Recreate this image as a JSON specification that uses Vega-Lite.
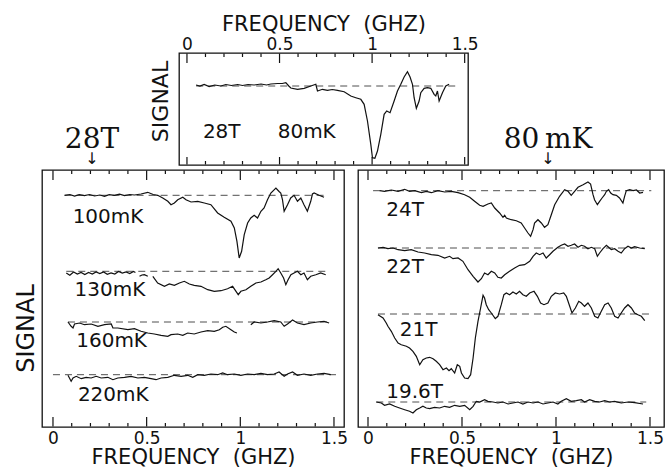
{
  "$schema": "https://vega.github.io/schema/vega-lite/v6.json",
  "background": "white",
  "padding": {"left": 13, "top": 12, "right": 0, "bottom": 0},
  "datasets": {
    "top_base": [{"f0": 0.05, "f1": 1.45, "s": 79}],
    "top_labels": [{"t": "28T", "f": 0.086, "s": 27}, {"t": "80mK", "f": 0.49, "s": 27}],
    "top_trace": [
      {"g":"tr","f":0.049,"s":80},{"g":"tr","f":0.07,"s":79},{"g":"tr","f":0.093,"s":80.5},{"g":"tr","f":0.12,"s":78.5},{"g":"tr","f":0.15,"s":80},{"g":"tr","f":0.183,"s":79},{"g":"tr","f":0.21,"s":80.5},{"g":"tr","f":0.24,"s":79.5},{"g":"tr","f":0.274,"s":80.5},{"g":"tr","f":0.30,"s":79.5},{"g":"tr","f":0.33,"s":80.5},{"g":"tr","f":0.363,"s":80},{"g":"tr","f":0.40,"s":81},{"g":"tr","f":0.43,"s":80},{"g":"tr","f":0.453,"s":81},{"g":"tr","f":0.49,"s":81.5},{"g":"tr","f":0.515,"s":81.5},{"g":"tr","f":0.534,"s":82.3},{"g":"tr","f":0.55,"s":79},{"g":"tr","f":0.561,"s":77},{"g":"tr","f":0.597,"s":75.7},{"g":"tr","f":0.633,"s":76.7},{"g":"tr","f":0.669,"s":79},{"g":"tr","f":0.696,"s":80.7},{"g":"tr","f":0.705,"s":74},{"g":"tr","f":0.732,"s":75.7},{"g":"tr","f":0.759,"s":74.7},{"g":"tr","f":0.785,"s":75.5},{"g":"tr","f":0.813,"s":74.7},{"g":"tr","f":0.849,"s":73.3},{"g":"tr","f":0.885,"s":69},{"g":"tr","f":0.912,"s":67.3},{"g":"tr","f":0.939,"s":65.7},{"g":"tr","f":0.957,"s":60.7},{"g":"tr","f":0.975,"s":44},{"g":"tr","f":0.993,"s":20.7},{"g":"tr","f":1.002,"s":7.3},{"g":"tr","f":1.015,"s":6.7},{"g":"tr","f":1.029,"s":14},{"g":"tr","f":1.047,"s":30.7},{"g":"tr","f":1.065,"s":50.7},{"g":"tr","f":1.079,"s":54},{"g":"tr","f":1.097,"s":52.3},{"g":"tr","f":1.119,"s":64},{"g":"tr","f":1.137,"s":74},{"g":"tr","f":1.155,"s":80.7},{"g":"tr","f":1.173,"s":88},{"g":"tr","f":1.191,"s":93.3},{"g":"tr","f":1.205,"s":88},{"g":"tr","f":1.218,"s":80.7},{"g":"tr","f":1.227,"s":67.3},{"g":"tr","f":1.239,"s":56.7},{"g":"tr","f":1.254,"s":64},{"g":"tr","f":1.263,"s":72.3},{"g":"tr","f":1.281,"s":76.7},{"g":"tr","f":1.299,"s":77.3},{"g":"tr","f":1.317,"s":76.7},{"g":"tr","f":1.335,"s":70.7},{"g":"tr","f":1.344,"s":69},{"g":"tr","f":1.353,"s":74},{"g":"tr","f":1.362,"s":64},{"g":"tr","f":1.380,"s":72.3},{"g":"tr","f":1.398,"s":79},{"g":"tr","f":1.416,"s":80.7},
      {"g":"TM0","f":0,"s":111.5},{"g":"TM0","f":0,"s":102},{"g":"TM1","f":0.5,"s":111.5},{"g":"TM1","f":0.5,"s":102},{"g":"TM2","f":1,"s":111.5},{"g":"TM2","f":1,"s":102},{"g":"TM3","f":1.5,"s":111.5},{"g":"TM3","f":1.5,"s":102},
      {"g":"Tm1","f":0.1,"s":111.5},{"g":"Tm1","f":0.1,"s":108},{"g":"Tm2","f":0.2,"s":111.5},{"g":"Tm2","f":0.2,"s":108},{"g":"Tm3","f":0.3,"s":111.5},{"g":"Tm3","f":0.3,"s":108},{"g":"Tm4","f":0.4,"s":111.5},{"g":"Tm4","f":0.4,"s":108},{"g":"Tm6","f":0.6,"s":111.5},{"g":"Tm6","f":0.6,"s":108},{"g":"Tm7","f":0.7,"s":111.5},{"g":"Tm7","f":0.7,"s":108},{"g":"Tm8","f":0.8,"s":111.5},{"g":"Tm8","f":0.8,"s":108},{"g":"Tm9","f":0.9,"s":111.5},{"g":"Tm9","f":0.9,"s":108},{"g":"Tm11","f":1.1,"s":111.5},{"g":"Tm11","f":1.1,"s":108},{"g":"Tm12","f":1.2,"s":111.5},{"g":"Tm12","f":1.2,"s":108},{"g":"Tm13","f":1.3,"s":111.5},{"g":"Tm13","f":1.3,"s":108},{"g":"Tm14","f":1.4,"s":111.5},{"g":"Tm14","f":1.4,"s":108},
      {"g":"BM0","f":0,"s":0.5},{"g":"BM0","f":0,"s":8},{"g":"BM1","f":0.5,"s":0.5},{"g":"BM1","f":0.5,"s":8},{"g":"BM2","f":1,"s":0.5},{"g":"BM2","f":1,"s":8},{"g":"BM3","f":1.5,"s":0.5},{"g":"BM3","f":1.5,"s":8},
      {"g":"Bm1","f":0.1,"s":0.5},{"g":"Bm1","f":0.1,"s":4},{"g":"Bm2","f":0.2,"s":0.5},{"g":"Bm2","f":0.2,"s":4},{"g":"Bm3","f":0.3,"s":0.5},{"g":"Bm3","f":0.3,"s":4},{"g":"Bm4","f":0.4,"s":0.5},{"g":"Bm4","f":0.4,"s":4},{"g":"Bm6","f":0.6,"s":0.5},{"g":"Bm6","f":0.6,"s":4},{"g":"Bm7","f":0.7,"s":0.5},{"g":"Bm7","f":0.7,"s":4},{"g":"Bm8","f":0.8,"s":0.5},{"g":"Bm8","f":0.8,"s":4},{"g":"Bm9","f":0.9,"s":0.5},{"g":"Bm9","f":0.9,"s":4},{"g":"Bm11","f":1.1,"s":0.5},{"g":"Bm11","f":1.1,"s":4},{"g":"Bm12","f":1.2,"s":0.5},{"g":"Bm12","f":1.2,"s":4},{"g":"Bm13","f":1.3,"s":0.5},{"g":"Bm13","f":1.3,"s":4},{"g":"Bm14","f":1.4,"s":0.5},{"g":"Bm14","f":1.4,"s":4}
    ],
    "left_base": [
      {"f0": 0.062, "f1": 1.447, "s": 231.7},
      {"f0": 0.071, "f1": 1.456, "s": 155.7},
      {"f0": 0.08, "f1": 1.483, "s": 105},
      {"f0": 0.0, "f1": 1.52, "s": 52.3}
    ],
    "left_labels": [
      {"t": "100mK", "f": 0.105, "s": 204},
      {"t": "130mK", "f": 0.115, "s": 130.7},
      {"t": "160mK", "f": 0.124, "s": 79.7},
      {"t": "220mK", "f": 0.133, "s": 25.7}
    ],
    "left_trace": [
      {"g":"100","f":0.062,"s":231.7},{"g":"100","f":0.09,"s":232.5},{"g":"100","f":0.115,"s":231},{"g":"100","f":0.14,"s":232.3},{"g":"100","f":0.168,"s":231.3},{"g":"100","f":0.195,"s":232.5},{"g":"100","f":0.222,"s":231},{"g":"100","f":0.25,"s":232},{"g":"100","f":0.275,"s":230.7},{"g":"100","f":0.30,"s":232.3},{"g":"100","f":0.328,"s":231.7},{"g":"100","f":0.355,"s":232.8},{"g":"100","f":0.382,"s":231.3},{"g":"100","f":0.41,"s":232.5},{"g":"100","f":0.435,"s":232},{"g":"100","f":0.47,"s":233},{"g":"100","f":0.506,"s":234.7},{"g":"100","f":0.535,"s":232.5},{"g":"100","f":0.559,"s":231.7},{"g":"100","f":0.586,"s":229},{"g":"100","f":0.613,"s":225.7},{"g":"100","f":0.630,"s":222.3},{"g":"100","f":0.648,"s":224},{"g":"100","f":0.666,"s":227.3},{"g":"100","f":0.693,"s":229.7},{"g":"100","f":0.710,"s":227.3},{"g":"100","f":0.737,"s":225},{"g":"100","f":0.773,"s":225.7},{"g":"100","f":0.808,"s":224},{"g":"100","f":0.843,"s":222.3},{"g":"100","f":0.879,"s":214},{"g":"100","f":0.914,"s":209.7},{"g":"100","f":0.950,"s":205.7},{"g":"100","f":0.968,"s":199},{"g":"100","f":0.982,"s":185.7},{"g":"100","f":0.994,"s":169},{"g":"100","f":1.007,"s":175.7},{"g":"100","f":1.021,"s":192.3},{"g":"100","f":1.039,"s":204},{"g":"100","f":1.056,"s":209},{"g":"100","f":1.074,"s":211.7},{"g":"100","f":1.092,"s":209},{"g":"100","f":1.110,"s":215.7},{"g":"100","f":1.127,"s":219},{"g":"100","f":1.145,"s":227.3},{"g":"100","f":1.163,"s":234},{"g":"100","f":1.190,"s":239},{"g":"100","f":1.207,"s":235.5},{"g":"100","f":1.216,"s":234},{"g":"100","f":1.225,"s":227.3},{"g":"100","f":1.234,"s":215.7},{"g":"100","f":1.252,"s":222.3},{"g":"100","f":1.269,"s":229},{"g":"100","f":1.287,"s":231.7},{"g":"100","f":1.305,"s":225.7},{"g":"100","f":1.323,"s":229},{"g":"100","f":1.340,"s":222.3},{"g":"100","f":1.358,"s":215.7},{"g":"100","f":1.376,"s":225.7},{"g":"100","f":1.385,"s":233},{"g":"100","f":1.394,"s":234},{"g":"100","f":1.420,"s":231.7},{"g":"100","f":1.447,"s":229.7},
      {"g":"130a","f":0.071,"s":154},{"g":"130a","f":0.09,"s":151.7},{"g":"130a","f":0.11,"s":155},{"g":"130a","f":0.13,"s":153},{"g":"130a","f":0.15,"s":154.5},{"g":"130a","f":0.17,"s":152.5},{"g":"130a","f":0.19,"s":154.5},{"g":"130a","f":0.21,"s":153},{"g":"130a","f":0.23,"s":155},{"g":"130a","f":0.25,"s":153.5},{"g":"130a","f":0.27,"s":155},{"g":"130a","f":0.29,"s":152.7},{"g":"130a","f":0.31,"s":154},{"g":"130a","f":0.33,"s":153},{"g":"130a","f":0.35,"s":155.5},{"g":"130a","f":0.37,"s":154},{"g":"130a","f":0.39,"s":155},{"g":"130a","f":0.41,"s":153.5},{"g":"130a","f":0.43,"s":155.5},{"g":"130a","f":0.44,"s":154.5},
      {"g":"130b","f":0.462,"s":150.7},{"g":"130b","f":0.475,"s":152},{"g":"130b","f":0.488,"s":152.3},{"g":"130b","f":0.506,"s":150.7},
      {"g":"130c","f":0.533,"s":150.7},{"g":"130c","f":0.559,"s":144},{"g":"130c","f":0.595,"s":140.7},{"g":"130c","f":0.621,"s":143},{"g":"130c","f":0.648,"s":141.7},{"g":"130c","f":0.675,"s":144},{"g":"130c","f":0.701,"s":145.7},{"g":"130c","f":0.728,"s":143},{"g":"130c","f":0.754,"s":141.7},{"g":"130c","f":0.790,"s":140.7},{"g":"130c","f":0.826,"s":137.3},{"g":"130c","f":0.861,"s":135.7},{"g":"130c","f":0.897,"s":136.3},{"g":"130c","f":0.932,"s":138.3},{"g":"130c","f":0.959,"s":140.7},{"g":"130c","f":0.977,"s":135.7},{"g":"130c","f":0.989,"s":132.3},{"g":"130c","f":1.003,"s":135.7},{"g":"130c","f":1.030,"s":137.3},{"g":"130c","f":1.056,"s":140.7},{"g":"130c","f":1.083,"s":144},{"g":"130c","f":1.110,"s":145},{"g":"130c","f":1.136,"s":147.3},{"g":"130c","f":1.154,"s":149},{"g":"130c","f":1.172,"s":152.3},{"g":"130c","f":1.190,"s":155.7},{"g":"130c","f":1.202,"s":158.3},{"g":"130c","f":1.216,"s":154},{"g":"130c","f":1.231,"s":149},{"g":"130c","f":1.243,"s":142.3},{"g":"130c","f":1.255,"s":147.3},{"g":"130c","f":1.270,"s":152.3},{"g":"130c","f":1.287,"s":154},{"g":"130c","f":1.305,"s":155.7},{"g":"130c","f":1.323,"s":152.3},{"g":"130c","f":1.340,"s":154},{"g":"130c","f":1.358,"s":147.3},{"g":"130c","f":1.376,"s":150.7},{"g":"130c","f":1.403,"s":152.3},{"g":"130c","f":1.429,"s":154},{"g":"130c","f":1.456,"s":152.3},
      {"g":"160a","f":0.080,"s":105},{"g":"160a","f":0.097,"s":100.7},{"g":"160a","f":0.107,"s":99},{"g":"160a","f":0.115,"s":103},{"g":"160a","f":0.142,"s":104},{"g":"160a","f":0.168,"s":102.3},{"g":"160a","f":0.204,"s":103},{"g":"160a","f":0.240,"s":100.7},{"g":"160a","f":0.275,"s":102.3},{"g":"160a","f":0.311,"s":103},{"g":"160a","f":0.320,"s":99},{"g":"160a","f":0.346,"s":99},{"g":"160a","f":0.40,"s":97.3},{"g":"160a","f":0.435,"s":98.3},{"g":"160a","f":0.470,"s":95.7},{"g":"160a","f":0.506,"s":94},{"g":"160a","f":0.541,"s":93},{"g":"160a","f":0.577,"s":91.7},{"g":"160a","f":0.613,"s":90.7},{"g":"160a","f":0.630,"s":92.3},{"g":"160a","f":0.666,"s":93},{"g":"160a","f":0.693,"s":91.7},{"g":"160a","f":0.719,"s":94},{"g":"160a","f":0.754,"s":93},{"g":"160a","f":0.790,"s":95},{"g":"160a","f":0.826,"s":96.3},{"g":"160a","f":0.861,"s":95.7},{"g":"160a","f":0.888,"s":97.3},{"g":"160a","f":0.906,"s":99.7},{"g":"160a","f":0.923,"s":100.7},{"g":"160a","f":0.950,"s":97.3},{"g":"160a","f":0.968,"s":95},{"g":"160a","f":0.982,"s":94},
      {"g":"160b","f":1.056,"s":102.3},{"g":"160b","f":1.074,"s":105},{"g":"160b","f":1.110,"s":104},{"g":"160b","f":1.145,"s":105},{"g":"160b","f":1.181,"s":106.3},{"g":"160b","f":1.216,"s":105},{"g":"160b","f":1.234,"s":100.7},{"g":"160b","f":1.252,"s":103},{"g":"160b","f":1.279,"s":107},{"g":"160b","f":1.305,"s":104},{"g":"160b","f":1.340,"s":102.3},{"g":"160b","f":1.376,"s":104},{"g":"160b","f":1.412,"s":105},{"g":"160b","f":1.447,"s":105.7},{"g":"160b","f":1.474,"s":104},
      {"g":"220","f":0.080,"s":51.7},{"g":"220","f":0.097,"s":45.7},{"g":"220","f":0.107,"s":49},{"g":"220","f":0.124,"s":50.7},{"g":"220","f":0.151,"s":48.3},{"g":"220","f":0.177,"s":49.7},{"g":"220","f":0.204,"s":49},{"g":"220","f":0.231,"s":50.7},{"g":"220","f":0.257,"s":49},{"g":"220","f":0.293,"s":49.7},{"g":"220","f":0.320,"s":47.3},{"g":"220","f":0.346,"s":49},{"g":"220","f":0.382,"s":49.7},{"g":"220","f":0.417,"s":50.7},{"g":"220","f":0.453,"s":49},{"g":"220","f":0.488,"s":49.7},{"g":"220","f":0.524,"s":48.3},{"g":"220","f":0.550,"s":47.3},{"g":"220","f":0.577,"s":49},{"g":"220","f":0.613,"s":49.7},{"g":"220","f":0.648,"s":51.7},{"g":"220","f":0.684,"s":50.7},{"g":"220","f":0.719,"s":51.7},{"g":"220","f":0.746,"s":49.7},{"g":"220","f":0.773,"s":52.3},{"g":"220","f":0.808,"s":51.7},{"g":"220","f":0.843,"s":53},{"g":"220","f":0.879,"s":52.3},{"g":"220","f":0.906,"s":54},{"g":"220","f":0.932,"s":52.3},{"g":"220","f":0.968,"s":53},{"g":"220","f":1.003,"s":51.7},{"g":"220","f":1.039,"s":53},{"g":"220","f":1.074,"s":52.3},{"g":"220","f":1.110,"s":53.7},{"g":"220","f":1.145,"s":52.3},{"g":"220","f":1.181,"s":53},{"g":"220","f":1.207,"s":55},{"g":"220","f":1.234,"s":50.7},{"g":"220","f":1.252,"s":53},{"g":"220","f":1.279,"s":55},{"g":"220","f":1.305,"s":51.7},{"g":"220","f":1.340,"s":53},{"g":"220","f":1.376,"s":51.7},{"g":"220","f":1.412,"s":53},{"g":"220","f":1.447,"s":53.7},{"g":"220","f":1.483,"s":52.3},
      {"g":"TM0","f":0,"s":256.5},{"g":"TM0","f":0,"s":247},{"g":"TM1","f":0.5,"s":256.5},{"g":"TM1","f":0.5,"s":247},{"g":"TM2","f":1,"s":256.5},{"g":"TM2","f":1,"s":247},{"g":"TM3","f":1.5,"s":256.5},{"g":"TM3","f":1.5,"s":247},
      {"g":"Tm1","f":0.1,"s":256.5},{"g":"Tm1","f":0.1,"s":253},{"g":"Tm2","f":0.2,"s":256.5},{"g":"Tm2","f":0.2,"s":253},{"g":"Tm3","f":0.3,"s":256.5},{"g":"Tm3","f":0.3,"s":253},{"g":"Tm4","f":0.4,"s":256.5},{"g":"Tm4","f":0.4,"s":253},{"g":"Tm6","f":0.6,"s":256.5},{"g":"Tm6","f":0.6,"s":253},{"g":"Tm7","f":0.7,"s":256.5},{"g":"Tm7","f":0.7,"s":253},{"g":"Tm8","f":0.8,"s":256.5},{"g":"Tm8","f":0.8,"s":253},{"g":"Tm9","f":0.9,"s":256.5},{"g":"Tm9","f":0.9,"s":253},{"g":"Tm11","f":1.1,"s":256.5},{"g":"Tm11","f":1.1,"s":253},{"g":"Tm12","f":1.2,"s":256.5},{"g":"Tm12","f":1.2,"s":253},{"g":"Tm13","f":1.3,"s":256.5},{"g":"Tm13","f":1.3,"s":253},{"g":"Tm14","f":1.4,"s":256.5},{"g":"Tm14","f":1.4,"s":253},
      {"g":"BM0","f":0,"s":0.5},{"g":"BM0","f":0,"s":10},{"g":"BM1","f":0.5,"s":0.5},{"g":"BM1","f":0.5,"s":10},{"g":"BM2","f":1,"s":0.5},{"g":"BM2","f":1,"s":10},{"g":"BM3","f":1.5,"s":0.5},{"g":"BM3","f":1.5,"s":10},
      {"g":"Bm1","f":0.1,"s":0.5},{"g":"Bm1","f":0.1,"s":4},{"g":"Bm2","f":0.2,"s":0.5},{"g":"Bm2","f":0.2,"s":4},{"g":"Bm3","f":0.3,"s":0.5},{"g":"Bm3","f":0.3,"s":4},{"g":"Bm4","f":0.4,"s":0.5},{"g":"Bm4","f":0.4,"s":4},{"g":"Bm6","f":0.6,"s":0.5},{"g":"Bm6","f":0.6,"s":4},{"g":"Bm7","f":0.7,"s":0.5},{"g":"Bm7","f":0.7,"s":4},{"g":"Bm8","f":0.8,"s":0.5},{"g":"Bm8","f":0.8,"s":4},{"g":"Bm9","f":0.9,"s":0.5},{"g":"Bm9","f":0.9,"s":4},{"g":"Bm11","f":1.1,"s":0.5},{"g":"Bm11","f":1.1,"s":4},{"g":"Bm12","f":1.2,"s":0.5},{"g":"Bm12","f":1.2,"s":4},{"g":"Bm13","f":1.3,"s":0.5},{"g":"Bm13","f":1.3,"s":4},{"g":"Bm14","f":1.4,"s":0.5},{"g":"Bm14","f":1.4,"s":4}
    ],
    "right_base": [
      {"f0": 0.027, "f1": 1.507, "s": 236.3},
      {"f0": 0.053, "f1": 1.472, "s": 179},
      {"f0": 0.053, "f1": 1.507, "s": 113},
      {"f0": 0.044, "f1": 1.48, "s": 25}
    ],
    "right_labels": [
      {"t": "24T", "f": 0.097, "s": 210.7},
      {"t": "22T", "f": 0.097, "s": 154},
      {"t": "21T", "f": 0.169, "s": 90.7},
      {"t": "19.6T", "f": 0.097, "s": 29}
    ],
    "right_trace": [
      {"g":"24","f":0.062,"s":236.3},{"g":"24","f":0.088,"s":235.7},{"g":"24","f":0.124,"s":237},{"g":"24","f":0.160,"s":235.7},{"g":"24","f":0.195,"s":237.7},{"g":"24","f":0.221,"s":235.7},{"g":"24","f":0.248,"s":236.3},{"g":"24","f":0.284,"s":234.3},{"g":"24","f":0.310,"s":235.7},{"g":"24","f":0.337,"s":234.3},{"g":"24","f":0.372,"s":236.3},{"g":"24","f":0.408,"s":235},{"g":"24","f":0.443,"s":235.7},{"g":"24","f":0.479,"s":234.3},{"g":"24","f":0.514,"s":232.3},{"g":"24","f":0.541,"s":229.7},{"g":"24","f":0.567,"s":225.7},{"g":"24","f":0.594,"s":221.7},{"g":"24","f":0.612,"s":220.7},{"g":"24","f":0.638,"s":223},{"g":"24","f":0.656,"s":224},{"g":"24","f":0.674,"s":219},{"g":"24","f":0.700,"s":214},{"g":"24","f":0.718,"s":209.7},{"g":"24","f":0.727,"s":211.7},{"g":"24","f":0.736,"s":209},{"g":"24","f":0.762,"s":207.3},{"g":"24","f":0.789,"s":206.3},{"g":"24","f":0.815,"s":204},{"g":"24","f":0.833,"s":199},{"g":"24","f":0.851,"s":194},{"g":"24","f":0.865,"s":190.7},{"g":"24","f":0.878,"s":197.3},{"g":"24","f":0.886,"s":204},{"g":"24","f":0.904,"s":207.3},{"g":"24","f":0.922,"s":204},{"g":"24","f":0.939,"s":199.7},{"g":"24","f":0.957,"s":202.3},{"g":"24","f":0.975,"s":212.3},{"g":"24","f":0.993,"s":222.3},{"g":"24","f":1.019,"s":230.7},{"g":"24","f":1.046,"s":237.3},{"g":"24","f":1.064,"s":235.7},{"g":"24","f":1.081,"s":231.7},{"g":"24","f":1.099,"s":235.7},{"g":"24","f":1.117,"s":239.7},{"g":"24","f":1.144,"s":242.3},{"g":"24","f":1.170,"s":245},{"g":"24","f":1.184,"s":243},{"g":"24","f":1.197,"s":232.3},{"g":"24","f":1.205,"s":227.3},{"g":"24","f":1.220,"s":222.3},{"g":"24","f":1.232,"s":225.7},{"g":"24","f":1.245,"s":229},{"g":"24","f":1.259,"s":232.3},{"g":"24","f":1.268,"s":235.7},{"g":"24","f":1.280,"s":237.3},{"g":"24","f":1.291,"s":234},{"g":"24","f":1.303,"s":232.3},{"g":"24","f":1.321,"s":231.7},{"g":"24","f":1.338,"s":229},{"g":"24","f":1.356,"s":224},{"g":"24","f":1.365,"s":230.7},{"g":"24","f":1.374,"s":236.3},{"g":"24","f":1.392,"s":237.3},{"g":"24","f":1.410,"s":236.3},{"g":"24","f":1.428,"s":237},{"g":"24","f":1.445,"s":234},{"g":"24","f":1.463,"s":234.7},
      {"g":"22","f":0.053,"s":179},{"g":"22","f":0.080,"s":179.7},{"g":"22","f":0.106,"s":178.3},{"g":"22","f":0.133,"s":179},{"g":"22","f":0.160,"s":177.3},{"g":"22","f":0.195,"s":176.3},{"g":"22","f":0.230,"s":177.3},{"g":"22","f":0.266,"s":175},{"g":"22","f":0.301,"s":174},{"g":"22","f":0.337,"s":172.3},{"g":"22","f":0.372,"s":171.7},{"g":"22","f":0.408,"s":169},{"g":"22","f":0.434,"s":170.7},{"g":"22","f":0.452,"s":168.3},{"g":"22","f":0.479,"s":169},{"g":"22","f":0.505,"s":165.7},{"g":"22","f":0.532,"s":157.3},{"g":"22","f":0.559,"s":150.7},{"g":"22","f":0.585,"s":145},{"g":"22","f":0.603,"s":148.3},{"g":"22","f":0.620,"s":154},{"g":"22","f":0.638,"s":152.3},{"g":"22","f":0.656,"s":155.7},{"g":"22","f":0.674,"s":154},{"g":"22","f":0.691,"s":149.7},{"g":"22","f":0.709,"s":149},{"g":"22","f":0.727,"s":152.3},{"g":"22","f":0.753,"s":155.7},{"g":"22","f":0.780,"s":159},{"g":"22","f":0.806,"s":161.7},{"g":"22","f":0.833,"s":162.3},{"g":"22","f":0.860,"s":165.7},{"g":"22","f":0.878,"s":170.7},{"g":"22","f":0.895,"s":174},{"g":"22","f":0.913,"s":172.3},{"g":"22","f":0.931,"s":174},{"g":"22","f":0.948,"s":169},{"g":"22","f":0.966,"s":172.3},{"g":"22","f":0.984,"s":175.7},{"g":"22","f":1.010,"s":179.7},{"g":"22","f":1.028,"s":181.7},{"g":"22","f":1.046,"s":183},{"g":"22","f":1.064,"s":180.7},{"g":"22","f":1.081,"s":181.7},{"g":"22","f":1.099,"s":183},{"g":"22","f":1.117,"s":179.7},{"g":"22","f":1.135,"s":181.7},{"g":"22","f":1.152,"s":180.7},{"g":"22","f":1.170,"s":178.3},{"g":"22","f":1.188,"s":179.7},{"g":"22","f":1.206,"s":178.3},{"g":"22","f":1.220,"s":170.7},{"g":"22","f":1.232,"s":174},{"g":"22","f":1.250,"s":178.3},{"g":"22","f":1.268,"s":181.7},{"g":"22","f":1.280,"s":179.7},{"g":"22","f":1.294,"s":177.3},{"g":"22","f":1.312,"s":178.3},{"g":"22","f":1.330,"s":175.7},{"g":"22","f":1.347,"s":174},{"g":"22","f":1.365,"s":178.3},{"g":"22","f":1.383,"s":180.7},{"g":"22","f":1.401,"s":179},{"g":"22","f":1.418,"s":180.3},{"g":"22","f":1.445,"s":179},{"g":"22","f":1.472,"s":178.3},
      {"g":"21","f":0.053,"s":112.3},{"g":"21","f":0.080,"s":109},{"g":"21","f":0.097,"s":104},{"g":"21","f":0.106,"s":100.7},{"g":"21","f":0.124,"s":95.7},{"g":"21","f":0.142,"s":89},{"g":"21","f":0.160,"s":84},{"g":"21","f":0.177,"s":82.3},{"g":"21","f":0.204,"s":80.7},{"g":"21","f":0.221,"s":79},{"g":"21","f":0.239,"s":75.7},{"g":"21","f":0.257,"s":70.7},{"g":"21","f":0.275,"s":62.3},{"g":"21","f":0.292,"s":67.3},{"g":"21","f":0.310,"s":69},{"g":"21","f":0.328,"s":69.7},{"g":"21","f":0.346,"s":68.3},{"g":"21","f":0.363,"s":65.7},{"g":"21","f":0.381,"s":62.3},{"g":"21","f":0.399,"s":57.3},{"g":"21","f":0.417,"s":59},{"g":"21","f":0.431,"s":56.3},{"g":"21","f":0.443,"s":58.3},{"g":"21","f":0.461,"s":54},{"g":"21","f":0.475,"s":62.3},{"g":"21","f":0.488,"s":60.7},{"g":"21","f":0.497,"s":54},{"g":"21","f":0.514,"s":49},{"g":"21","f":0.532,"s":48.3},{"g":"21","f":0.546,"s":52.3},{"g":"21","f":0.559,"s":69},{"g":"21","f":0.571,"s":89},{"g":"21","f":0.585,"s":105.7},{"g":"21","f":0.599,"s":119},{"g":"21","f":0.612,"s":131.7},{"g":"21","f":0.620,"s":129},{"g":"21","f":0.629,"s":122.3},{"g":"21","f":0.642,"s":117.3},{"g":"21","f":0.656,"s":114},{"g":"21","f":0.677,"s":108.3},{"g":"21","f":0.691,"s":110.7},{"g":"21","f":0.709,"s":122.3},{"g":"21","f":0.723,"s":132.3},{"g":"21","f":0.736,"s":134},{"g":"21","f":0.753,"s":132.3},{"g":"21","f":0.771,"s":135},{"g":"21","f":0.789,"s":133},{"g":"21","f":0.806,"s":135.7},{"g":"21","f":0.824,"s":132.3},{"g":"21","f":0.842,"s":130.7},{"g":"21","f":0.860,"s":134},{"g":"21","f":0.883,"s":135.7},{"g":"21","f":0.901,"s":130.7},{"g":"21","f":0.918,"s":124},{"g":"21","f":0.936,"s":122.3},{"g":"21","f":0.957,"s":124},{"g":"21","f":0.975,"s":130.7},{"g":"21","f":0.996,"s":134},{"g":"21","f":1.019,"s":133},{"g":"21","f":1.041,"s":134},{"g":"21","f":1.055,"s":130.7},{"g":"21","f":1.073,"s":120.7},{"g":"21","f":1.085,"s":114},{"g":"21","f":1.103,"s":119},{"g":"21","f":1.121,"s":125.7},{"g":"21","f":1.135,"s":124},{"g":"21","f":1.152,"s":120.7},{"g":"21","f":1.170,"s":124},{"g":"21","f":1.188,"s":119},{"g":"21","f":1.206,"s":110.7},{"g":"21","f":1.223,"s":109},{"g":"21","f":1.241,"s":115.7},{"g":"21","f":1.259,"s":122.3},{"g":"21","f":1.277,"s":124},{"g":"21","f":1.294,"s":119},{"g":"21","f":1.312,"s":110.7},{"g":"21","f":1.330,"s":109},{"g":"21","f":1.347,"s":114},{"g":"21","f":1.365,"s":119},{"g":"21","f":1.383,"s":122.3},{"g":"21","f":1.401,"s":119},{"g":"21","f":1.418,"s":114},{"g":"21","f":1.436,"s":112.3},{"g":"21","f":1.454,"s":110.7},{"g":"21","f":1.472,"s":106.3},
      {"g":"19.6","f":0.044,"s":25},{"g":"19.6","f":0.071,"s":24},{"g":"19.6","f":0.088,"s":21.7},{"g":"19.6","f":0.115,"s":23},{"g":"19.6","f":0.142,"s":20.7},{"g":"19.6","f":0.168,"s":19},{"g":"19.6","f":0.195,"s":17.3},{"g":"19.6","f":0.221,"s":15.7},{"g":"19.6","f":0.239,"s":14},{"g":"19.6","f":0.257,"s":17.3},{"g":"19.6","f":0.275,"s":19},{"g":"19.6","f":0.292,"s":20.7},{"g":"19.6","f":0.310,"s":19},{"g":"19.6","f":0.328,"s":18.3},{"g":"19.6","f":0.354,"s":19.7},{"g":"19.6","f":0.381,"s":19},{"g":"19.6","f":0.408,"s":20.7},{"g":"19.6","f":0.434,"s":19.7},{"g":"19.6","f":0.461,"s":21.7},{"g":"19.6","f":0.488,"s":20.7},{"g":"19.6","f":0.514,"s":21.7},{"g":"19.6","f":0.541,"s":17.3},{"g":"19.6","f":0.559,"s":20.7},{"g":"19.6","f":0.576,"s":25.7},{"g":"19.6","f":0.594,"s":25},{"g":"19.6","f":0.620,"s":27.3},{"g":"19.6","f":0.638,"s":25.7},{"g":"19.6","f":0.665,"s":25},{"g":"19.6","f":0.691,"s":24},{"g":"19.6","f":0.718,"s":25},{"g":"19.6","f":0.745,"s":23},{"g":"19.6","f":0.771,"s":24},{"g":"19.6","f":0.798,"s":25},{"g":"19.6","f":0.824,"s":23},{"g":"19.6","f":0.851,"s":25},{"g":"19.6","f":0.878,"s":24},{"g":"19.6","f":0.904,"s":25},{"g":"19.6","f":0.931,"s":23},{"g":"19.6","f":0.957,"s":24},{"g":"19.6","f":0.984,"s":25},{"g":"19.6","f":1.010,"s":23},{"g":"19.6","f":1.028,"s":25.7},{"g":"19.6","f":1.055,"s":28.3},{"g":"19.6","f":1.081,"s":25.7},{"g":"19.6","f":1.108,"s":26.3},{"g":"19.6","f":1.135,"s":27.3},{"g":"19.6","f":1.152,"s":25},{"g":"19.6","f":1.179,"s":27.3},{"g":"19.6","f":1.206,"s":25.7},{"g":"19.6","f":1.232,"s":25},{"g":"19.6","f":1.259,"s":26.3},{"g":"19.6","f":1.285,"s":25},{"g":"19.6","f":1.312,"s":25.7},{"g":"19.6","f":1.347,"s":24},{"g":"19.6","f":1.383,"s":25},{"g":"19.6","f":1.418,"s":24.3},{"g":"19.6","f":1.463,"s":23},
      {"g":"TM0","f":0,"s":256.5},{"g":"TM0","f":0,"s":247},{"g":"TM1","f":0.5,"s":256.5},{"g":"TM1","f":0.5,"s":247},{"g":"TM2","f":1,"s":256.5},{"g":"TM2","f":1,"s":247},{"g":"TM3","f":1.5,"s":256.5},{"g":"TM3","f":1.5,"s":247},
      {"g":"Tm1","f":0.1,"s":256.5},{"g":"Tm1","f":0.1,"s":253},{"g":"Tm2","f":0.2,"s":256.5},{"g":"Tm2","f":0.2,"s":253},{"g":"Tm3","f":0.3,"s":256.5},{"g":"Tm3","f":0.3,"s":253},{"g":"Tm4","f":0.4,"s":256.5},{"g":"Tm4","f":0.4,"s":253},{"g":"Tm6","f":0.6,"s":256.5},{"g":"Tm6","f":0.6,"s":253},{"g":"Tm7","f":0.7,"s":256.5},{"g":"Tm7","f":0.7,"s":253},{"g":"Tm8","f":0.8,"s":256.5},{"g":"Tm8","f":0.8,"s":253},{"g":"Tm9","f":0.9,"s":256.5},{"g":"Tm9","f":0.9,"s":253},{"g":"Tm11","f":1.1,"s":256.5},{"g":"Tm11","f":1.1,"s":253},{"g":"Tm12","f":1.2,"s":256.5},{"g":"Tm12","f":1.2,"s":253},{"g":"Tm13","f":1.3,"s":256.5},{"g":"Tm13","f":1.3,"s":253},{"g":"Tm14","f":1.4,"s":256.5},{"g":"Tm14","f":1.4,"s":253},
      {"g":"BM0","f":0,"s":0.5},{"g":"BM0","f":0,"s":10},{"g":"BM1","f":0.5,"s":0.5},{"g":"BM1","f":0.5,"s":10},{"g":"BM2","f":1,"s":0.5},{"g":"BM2","f":1,"s":10},{"g":"BM3","f":1.5,"s":0.5},{"g":"BM3","f":1.5,"s":10},
      {"g":"Bm1","f":0.1,"s":0.5},{"g":"Bm1","f":0.1,"s":4},{"g":"Bm2","f":0.2,"s":0.5},{"g":"Bm2","f":0.2,"s":4},{"g":"Bm3","f":0.3,"s":0.5},{"g":"Bm3","f":0.3,"s":4},{"g":"Bm4","f":0.4,"s":0.5},{"g":"Bm4","f":0.4,"s":4},{"g":"Bm6","f":0.6,"s":0.5},{"g":"Bm6","f":0.6,"s":4},{"g":"Bm7","f":0.7,"s":0.5},{"g":"Bm7","f":0.7,"s":4},{"g":"Bm8","f":0.8,"s":0.5},{"g":"Bm8","f":0.8,"s":4},{"g":"Bm9","f":0.9,"s":0.5},{"g":"Bm9","f":0.9,"s":4},{"g":"Bm11","f":1.1,"s":0.5},{"g":"Bm11","f":1.1,"s":4},{"g":"Bm12","f":1.2,"s":0.5},{"g":"Bm12","f":1.2,"s":4},{"g":"Bm13","f":1.3,"s":0.5},{"g":"Bm13","f":1.3,"s":4},{"g":"Bm14","f":1.4,"s":0.5},{"g":"Bm14","f":1.4,"s":4}
    ]
  },
  "spacing": -43,
  "vconcat": [
    {
      "spacing": 20,
      "bounds": "flush",
      "hconcat": [
        {
          "width": 117, "height": 112,
          "view": {"stroke": null},
          "data": {"values": [{"a": 1}]},
          "mark": {"type": "point", "opacity": 0},
          "encoding": {}
        },
        {
          "width": 289, "height": 112,
          "resolve": {"axis": {"x": "independent"}},
          "layer": [
            {
              "data": {"name": "top_base"},
              "mark": {"type": "rule", "strokeDash": [7, 5], "strokeWidth": 0.8, "color": "#222"},
              "encoding": {
                "x": {"field": "f0", "type": "quantitative", "scale": {"domain": [-0.043, 1.518], "nice": false, "zero": false},
                  "axis": {"orient": "top", "values": [0, 0.5, 1, 1.5], "ticks": false, "format": "~g", "labelPadding": 0, "title": "FREQUENCY\u00a0 (GHZ)", "titlePadding": 1}},
                "x2": {"field": "f1"},
                "y": {"field": "s", "type": "quantitative", "scale": {"domain": [0, 112], "nice": false, "zero": false},
                  "axis": {"title": "SIGNAL", "labels": false, "ticks": false, "titleFontSize": 22, "titlePadding": 7, "titleY": 48}}
              }
            },
            {
              "data": {"name": "top_trace"},
              "mark": {"type": "line", "strokeWidth": 1.2, "color": "#111"},
              "encoding": {
                "x": {"field": "f", "type": "quantitative", "scale": {"domain": [-0.043, 1.518], "nice": false, "zero": false}, "axis": null},
                "y": {"field": "s", "type": "quantitative", "scale": {"domain": [0, 112], "nice": false, "zero": false},
                  "axis": {"title": "SIGNAL", "labels": false, "ticks": false, "titleFontSize": 22, "titlePadding": 7, "titleY": 48}},
                "detail": {"field": "g"}
              }
            },
            {
              "data": {"name": "top_labels"},
              "mark": {"type": "text", "align": "left", "baseline": "alphabetic", "font": "DejaVu Sans", "fontSize": 20, "color": "#111"},
              "encoding": {
                "x": {"field": "f", "type": "quantitative", "scale": {"domain": [-0.043, 1.518], "nice": false, "zero": false}, "axis": null},
                "y": {"field": "s", "type": "quantitative", "scale": {"domain": [0, 112], "nice": false, "zero": false},
                  "axis": {"title": "SIGNAL", "labels": false, "ticks": false, "titleFontSize": 22, "titlePadding": 7, "titleY": 48}},
                "text": {"field": "t"}
              }
            }
          ]
        }
      ]
    },
    {
      "spacing": 14,
      "bounds": "flush",
      "hconcat": [
        {
          "width": 302, "height": 257,
          "title": {"text": "28T", "subtitle": "\u2193", "anchor": "start", "frame": "group", "dx": 50, "align": "center", "offset": 1},
          "resolve": {"axis": {"x": "independent"}},
          "layer": [
            {
              "data": {"name": "left_base"},
              "mark": {"type": "rule", "strokeDash": [7, 5], "strokeWidth": 0.8, "color": "#222"},
              "encoding": {
                "x": {"field": "f0", "type": "quantitative", "scale": {"domain": [-0.0586, 1.5535], "nice": false, "zero": false},
                  "axis": {"orient": "bottom", "values": [0, 0.5, 1, 1.5], "ticks": false, "format": "~g", "labelPadding": 3, "title": "FREQUENCY\u00a0 (GHZ)", "titlePadding": 0}},
                "x2": {"field": "f1"},
                "y": {"field": "s", "type": "quantitative", "scale": {"domain": [0, 257], "nice": false, "zero": false},
                  "axis": {"title": "SIGNAL", "labels": false, "ticks": false, "titleFontSize": 24, "titlePadding": 4, "titleY": 158}}
              }
            },
            {
              "data": {"name": "left_trace"},
              "mark": {"type": "line", "strokeWidth": 1.2, "color": "#111"},
              "encoding": {
                "x": {"field": "f", "type": "quantitative", "scale": {"domain": [-0.0586, 1.5535], "nice": false, "zero": false}, "axis": null},
                "y": {"field": "s", "type": "quantitative", "scale": {"domain": [0, 257], "nice": false, "zero": false},
                  "axis": {"title": "SIGNAL", "labels": false, "ticks": false, "titleFontSize": 24, "titlePadding": 4, "titleY": 158}},
                "detail": {"field": "g"}
              }
            },
            {
              "data": {"name": "left_labels"},
              "mark": {"type": "text", "align": "left", "baseline": "alphabetic", "font": "DejaVu Sans", "fontSize": 20, "color": "#111"},
              "encoding": {
                "x": {"field": "f", "type": "quantitative", "scale": {"domain": [-0.0586, 1.5535], "nice": false, "zero": false}, "axis": null},
                "y": {"field": "s", "type": "quantitative", "scale": {"domain": [0, 257], "nice": false, "zero": false},
                  "axis": {"title": "SIGNAL", "labels": false, "ticks": false, "titleFontSize": 24, "titlePadding": 4, "titleY": 158}},
                "text": {"field": "t"}
              }
            }
          ]
        },
        {
          "width": 306, "height": 257,
          "title": {"text": "80\u2009mK", "subtitle": "\u2193", "anchor": "start", "frame": "group", "dx": 190, "align": "center", "offset": 1},
          "resolve": {"axis": {"x": "independent"}},
          "layer": [
            {
              "data": {"name": "right_base"},
              "mark": {"type": "rule", "strokeDash": [7, 5], "strokeWidth": 0.8, "color": "#222"},
              "encoding": {
                "x": {"field": "f0", "type": "quantitative", "scale": {"domain": [-0.0532, 1.5745], "nice": false, "zero": false},
                  "axis": {"orient": "bottom", "values": [0, 0.5, 1, 1.5], "ticks": false, "format": "~g", "labelPadding": 3, "title": "FREQUENCY\u00a0 (GHZ)", "titlePadding": 0}},
                "x2": {"field": "f1"},
                "y": {"field": "s", "type": "quantitative", "scale": {"domain": [0, 257], "nice": false, "zero": false}, "axis": null}
              }
            },
            {
              "data": {"name": "right_trace"},
              "mark": {"type": "line", "strokeWidth": 1.2, "color": "#111"},
              "encoding": {
                "x": {"field": "f", "type": "quantitative", "scale": {"domain": [-0.0532, 1.5745], "nice": false, "zero": false}, "axis": null},
                "y": {"field": "s", "type": "quantitative", "scale": {"domain": [0, 257], "nice": false, "zero": false}, "axis": null},
                "detail": {"field": "g"}
              }
            },
            {
              "data": {"name": "right_labels"},
              "mark": {"type": "text", "align": "left", "baseline": "alphabetic", "font": "DejaVu Sans", "fontSize": 20, "color": "#111"},
              "encoding": {
                "x": {"field": "f", "type": "quantitative", "scale": {"domain": [-0.0532, 1.5745], "nice": false, "zero": false}, "axis": null},
                "y": {"field": "s", "type": "quantitative", "scale": {"domain": [0, 257], "nice": false, "zero": false}, "axis": null},
                "text": {"field": "t"}
              }
            }
          ]
        }
      ]
    }
  ],
  "config": {
    "view": {"stroke": "#111", "strokeWidth": 1.3},
    "axis": {"grid": false, "domain": false, "labelFont": "DejaVu Sans", "titleFont": "DejaVu Sans", "titleFontWeight": "normal", "labelColor": "#111", "titleColor": "#111", "tickColor": "#111", "tickWidth": 1.1, "labelFlush": false, "labelFontSize": 17, "titleFontSize": 21},
    "title": {"font": "DejaVu Serif", "fontSize": 28, "fontWeight": "normal", "color": "#111", "subtitleFont": "DejaVu Sans", "subtitleFontSize": 16, "subtitleColor": "#111", "subtitlePadding": -3}
  }
}
